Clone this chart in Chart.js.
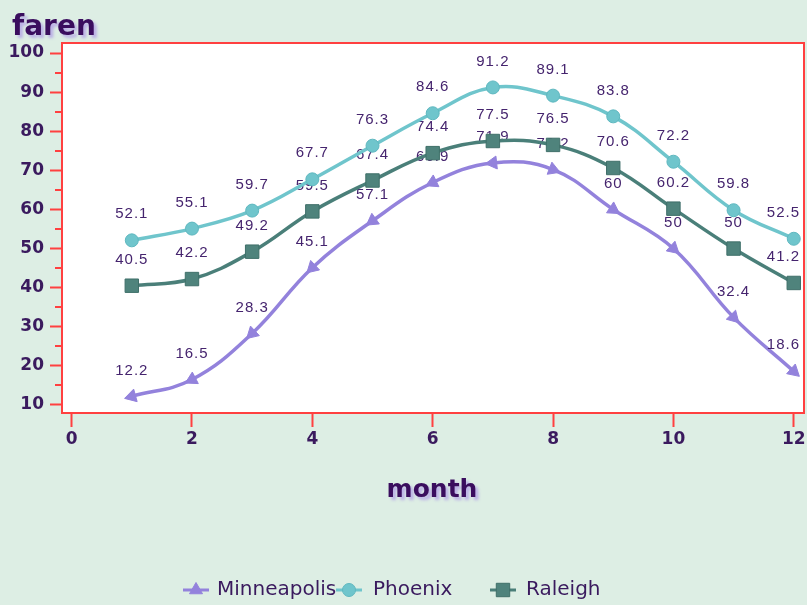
<!DOCTYPE html>
<html><head><meta charset="utf-8">
<script src="https://cdn.jsdelivr.net/npm/chart.js@4"></script>
<style>html,body{margin:0;padding:0;background:#ddeee4;overflow:hidden}</style>
</head><body>
<canvas id="c" width="807" height="605" style="display:block;width:807px;height:605px"></canvas>
<script>
const months = [1, 2, 3, 4, 5, 6, 7, 8, 9, 10, 11, 12];
const minneapolis = [12.2, 16.5, 28.3, 45.1, 57.1, 66.9, 71.9, 70.2, 60, 50, 32.4, 18.6];
const phoenix = [52.1, 55.1, 59.7, 67.7, 76.3, 84.6, 91.2, 89.1, 83.8, 72.2, 59.8, 52.5];
const raleigh = [40.5, 42.2, 49.2, 59.5, 67.4, 74.4, 77.5, 76.5, 70.6, 60.2, 50, 41.2];
const seriesNames = ['Minneapolis', 'Phoenix', 'Raleigh'];
const xTicks = [0, 2, 4, 6, 8, 10, 12];
const yTicks = [10, 20, 30, 40, 50, 60, 70, 80, 90, 100];
const yMinorTicks = [15, 25, 35, 45, 55, 65, 75, 85, 95];
const xTitle = 'month';
const yTitle = 'faren';

const BG = '#ddeee4';
const TEXT = '#3a1a5e';
const RED = '#ff4040';

function pts(arr){ return months.map((m,i)=>({x:m, y:arr[i]})); }

function arrowRotation(c){
  const i = c.dataIndex, ch = c.chart;
  const xs = ch.scales.x, ys = ch.scales.y;
  if (!xs || !ys) return 0;
  const d = minneapolis;
  const a = Math.max(0, i-1), b = Math.min(d.length-1, i+1);
  let dx = xs.getPixelForValue(months[b]) - xs.getPixelForValue(months[a]);
  let dy = ys.getPixelForValue(d[b]) - ys.getPixelForValue(d[a]);
  if (i <= 6) { dx = -dx; dy = -dy; }
  return Math.atan2(dx, -dy) * 180 / Math.PI;
}

const bgPlugin = {
  id: 'bg',
  beforeDraw(chart){
    const ctx = chart.ctx, a = chart.chartArea;
    ctx.save();
    ctx.fillStyle = BG;
    ctx.fillRect(0,0,chart.width,chart.height);
    ctx.fillStyle = '#ffffff';
    ctx.fillRect(a.left, a.top, a.right-a.left, a.bottom-a.top);
    ctx.restore();
  },
  afterDraw(chart){
    const ctx = chart.ctx, a = chart.chartArea, ys = chart.scales.y;
    ctx.save();
    ctx.strokeStyle = RED;
    ctx.lineWidth = 2;
    ctx.strokeRect(a.left, a.top, a.right-a.left, a.bottom-a.top);
    yMinorTicks.forEach(v=>{
      const y = Math.round(ys.getPixelForValue(v));
      ctx.beginPath(); ctx.moveTo(a.left-7, y); ctx.lineTo(a.left, y); ctx.stroke();
    });
    ctx.shadowColor = 'rgba(175,155,230,0.75)';
    ctx.shadowOffsetX = 3; ctx.shadowOffsetY = 3; ctx.shadowBlur = 3;
    ctx.fillStyle = '#3a0d5e';
    ctx.textBaseline = 'alphabetic';
    ctx.textAlign = 'left';
    ctx.font = 'bold 28px "DejaVu Sans"';
    ctx.fillText(yTitle, 12, 35);
    ctx.textAlign = 'center';
    ctx.font = 'bold 25px "DejaVu Sans"';
    ctx.fillText(xTitle, 432, 497);
    ctx.restore();
    const legendX = [196, 349, 503];
    const textX = [217, 373, 526];
    const ly = 590;
    ctx.save();
    [0, 1, 2].forEach((di, k)=>{
      const ds = chart.data.datasets[di];
      ctx.strokeStyle = ds.borderColor;
      ctx.lineWidth = 3;
      ctx.beginPath(); ctx.moveTo(legendX[k]-13, ly); ctx.lineTo(legendX[k]+13, ly); ctx.stroke();
      ctx.fillStyle = ds.pointBackgroundColor;
      ctx.strokeStyle = ds.pointBorderColor;
      ctx.lineWidth = 1;
      Chart.helpers.drawPoint(ctx, {
        pointStyle: ds.pointStyle, radius: ds.pointRadius, rotation: 0, borderWidth: 1
      }, legendX[k], ly);
      ctx.fillStyle = TEXT;
      ctx.font = '20px "DejaVu Sans"';
      ctx.textAlign = 'left';
      ctx.textBaseline = 'middle';
      ctx.fillText(seriesNames[di], textX[k], ly);
    });
    ctx.restore();
  },
  afterDatasetDraw(chart, args){
    const ctx = chart.ctx, a = chart.chartArea;
    const ds = chart.data.datasets[args.index];
    ctx.save();
    ctx.fillStyle = '#45246e';
    ctx.font = '15px "Liberation Sans"';
    try { ctx.letterSpacing = '1px'; } catch(e){}
    ctx.textAlign = 'center';
    ctx.textBaseline = 'middle';
    args.meta.data.forEach((el, i)=>{
      const txt = String(ds.data[i].y);
      const w = ctx.measureText(txt).width;
      let x = el.x;
      if (x + w/2 > a.right - 4) x = a.right - 4 - w/2;
      if (x - w/2 < a.left + 4) x = a.left + 4 + w/2;
      ctx.fillText(txt, x, el.y - 26);
    });
    ctx.restore();
  }
};

const datasets = [
  { label: seriesNames[0], data: pts(minneapolis), order: 3,
    borderColor: '#9382dc', backgroundColor: '#9382dc', borderWidth: 3.5,
    pointStyle: 'triangle', pointRadius: 7.5, pointRotation: arrowRotation,
    pointBackgroundColor: '#9382dc', pointBorderColor: '#9382dc', pointBorderWidth: 1 },
  { label: seriesNames[1], data: pts(phoenix), order: 1,
    borderColor: '#6fc5cc', backgroundColor: '#6fc5cc', borderWidth: 3.5,
    pointStyle: 'circle', pointRadius: 6.5,
    pointBackgroundColor: '#6fc5cc', pointBorderColor: '#5fb8c0', pointBorderWidth: 1 },
  { label: seriesNames[2], data: pts(raleigh), order: 2,
    borderColor: '#4a7f79', backgroundColor: '#4a7f79', borderWidth: 3.5,
    pointStyle: 'rect', pointRadius: 9.5,
    pointBackgroundColor: '#4f837c', pointBorderColor: '#3f6f69', pointBorderWidth: 1 }
];

new Chart(document.getElementById('c'), {
  type: 'line',
  data: { datasets },
  plugins: [bgPlugin],
  options: {
    responsive: false,
    devicePixelRatio: 1,
    animation: false,
    layout: { autoPadding: false, padding: { top: 43, right: 3, left: 0, bottom: 0 } },
    elements: { line: { tension: 0.4 } },
    plugins: { legend: { display: false }, title: { display: false }, tooltip: { enabled: false } },
    scales: {
      x: {
        type: 'linear', min: -0.16, max: 12.17,
        afterBuildTicks(s){ s.ticks = xTicks.map(v=>({value:v})); },
        afterFit(s){ s.height = 605 - 413; s.paddingLeft = 0; s.paddingRight = 0; },
        grid: { drawOnChartArea: false, drawTicks: true, tickLength: 14, tickColor: RED, tickWidth: 2 },
        border: { display: true, color: RED, width: 2 },
        ticks: { color: TEXT, font: { family: 'DejaVu Sans', size: 17, weight: 'bold' }, padding: 2, maxRotation: 0 }
      },
      y: {
        type: 'linear', min: 7.95, max: 102.56,
        afterBuildTicks(s){ s.ticks = yTicks.map(v=>({value:v})); },
        afterFit(s){ s.width = 62; s.paddingTop = 0; s.paddingBottom = 0; },
        grid: { drawOnChartArea: false, drawTicks: true, tickLength: 12, tickColor: RED, tickWidth: 2 },
        border: { display: true, color: RED, width: 2 },
        ticks: { color: TEXT, font: { family: 'DejaVu Sans', size: 17, weight: 'bold' }, padding: 6 }
      }
    }
  }
});
</script>
</body></html>
